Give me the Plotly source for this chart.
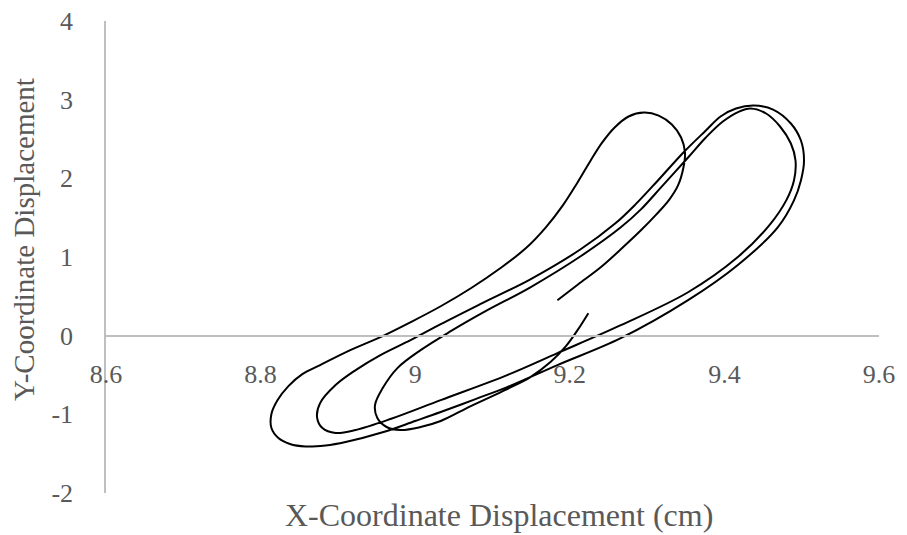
import plotly.graph_objects as go

# Trajectory (x in cm, y displacement)
x_disp = [
    9.184, 9.211, 9.240, 9.266, 9.292, 9.312, 9.328, 9.340, 9.347, 9.349,
    9.344, 9.332, 9.315, 9.296, 9.276, 9.258, 9.242, 9.227, 9.210, 9.191,
    9.169, 9.143, 9.110, 9.072, 9.033, 8.994, 8.955, 8.916, 8.877,
    8.854, 8.836, 8.822, 8.814, 8.814, 8.823, 8.838, 8.858, 8.884,
    8.910, 8.959, 9.000,
    9.033, 9.078, 9.119, 9.184, 9.266, 9.353, 9.417, 9.469, 9.490, 9.499,
    9.503, 9.499, 9.486, 9.463, 9.438, 9.415, 9.395, 9.376, 9.347, 9.314,
    9.285, 9.259, 9.214, 9.149, 9.084, 9.033, 8.994, 8.955, 8.923, 8.897,
    8.877, 8.873, 8.880, 8.897, 8.923, 8.968, 9.033, 9.119, 9.184, 9.266,
    9.353, 9.417, 9.458, 9.480, 9.490, 9.492, 9.486, 9.472, 9.454, 9.434,
    9.419, 9.398, 9.376, 9.353, 9.318, 9.292, 9.266, 9.214, 9.149, 9.091,
    9.046, 9.007, 8.977, 8.958, 8.948, 8.951, 8.963, 8.981, 9.007, 9.033,
    9.072, 9.119, 9.149, 9.175, 9.195, 9.210, 9.224,
]
y_disp = [
    0.451, 0.654, 0.869, 1.098, 1.339, 1.542, 1.720, 1.910, 2.138, 2.329,
    2.519, 2.684, 2.798, 2.836, 2.786, 2.646, 2.456, 2.227, 1.948, 1.656,
    1.377, 1.110, 0.857, 0.603, 0.374, 0.171, -0.019, -0.184, -0.374,
    -0.489, -0.641, -0.819, -0.996, -1.174, -1.301, -1.377, -1.409, -1.396,
    -1.352, -1.225, -1.085,
    -0.971, -0.806, -0.654, -0.374, -0.032, 0.451, 0.895, 1.377, 1.720, 1.973,
    2.227, 2.481, 2.697, 2.874, 2.925, 2.887, 2.786, 2.608, 2.329, 1.973,
    1.669, 1.428, 1.098, 0.717, 0.400, 0.146, -0.057, -0.247, -0.438, -0.628,
    -0.857, -1.034, -1.174, -1.237, -1.199, -1.060, -0.819, -0.501, -0.222, 0.133,
    0.552, 0.996, 1.402, 1.720, 1.973, 2.227, 2.443, 2.659, 2.824, 2.887,
    2.849, 2.722, 2.519, 2.265, 1.885, 1.605, 1.377, 1.009, 0.615, 0.311,
    0.057, -0.184, -0.412, -0.666, -0.882, -1.047, -1.161, -1.199, -1.161, -1.085,
    -0.895, -0.679, -0.527, -0.336, -0.133, 0.070, 0.286,
]

x_ticks = [8.6, 8.8, 9.0, 9.2, 9.4, 9.6]
x_tick_labels = ["8.6", "8.8", "9", "9.2", "9.4", "9.6"]
y_ticks = [-2, -1, 0, 1, 2, 3, 4]
y_tick_labels = ["-2", "-1", "0", "1", "2", "3", "4"]

x_title = "X-Coordinate Displacement (cm)"
y_title = "Y-Coordinate Displacement"

FONT = "Liberation Serif, Times New Roman, serif"
TEXT = "#595959"
AXIS = "#bfbfbf"

fig = go.Figure()
fig.add_trace(go.Scatter(
    x=x_disp, y=y_disp, mode="lines",
    line=dict(color="black", width=2, shape="spline", smoothing=1.0),
    showlegend=False, hoverinfo="skip",
))

fig.update_layout(
    width=907, height=535,
    margin=dict(l=106, r=28, t=21, b=42),
    paper_bgcolor="white", plot_bgcolor="white",
    font=dict(family=FONT, color=TEXT, size=26),
    xaxis=dict(
        range=[8.6, 9.6], tickvals=x_ticks, ticktext=x_tick_labels,
        showgrid=False, zeroline=False, showline=True,
        linecolor=AXIS, linewidth=1.5, ticks="",
        anchor="free", position=1/3, ticklabelstandoff=15,
        automargin=False,
        tickfont=dict(family=FONT, size=26, color=TEXT),
    ),
    yaxis=dict(
        range=[-2, 4], tickvals=y_ticks, ticktext=y_tick_labels,
        showgrid=False, zeroline=False, showline=True,
        linecolor=AXIS, linewidth=1.5, ticks="",
        ticklabelstandoff=26, automargin=False,
        tickfont=dict(family=FONT, size=26, color=TEXT),
    ),
    annotations=[
        dict(text=x_title, xref="paper", yref="paper", x=0.508, y=-0.047,
             xanchor="center", yanchor="middle", showarrow=False,
             font=dict(family=FONT, size=32, color=TEXT)),
        dict(text=y_title, xref="paper", yref="paper", x=-0.106, y=0.536,
             xanchor="center", yanchor="middle", showarrow=False, textangle=-90,
             font=dict(family=FONT, size=29, color=TEXT)),
    ],
)

fig.write_html("out.html")
